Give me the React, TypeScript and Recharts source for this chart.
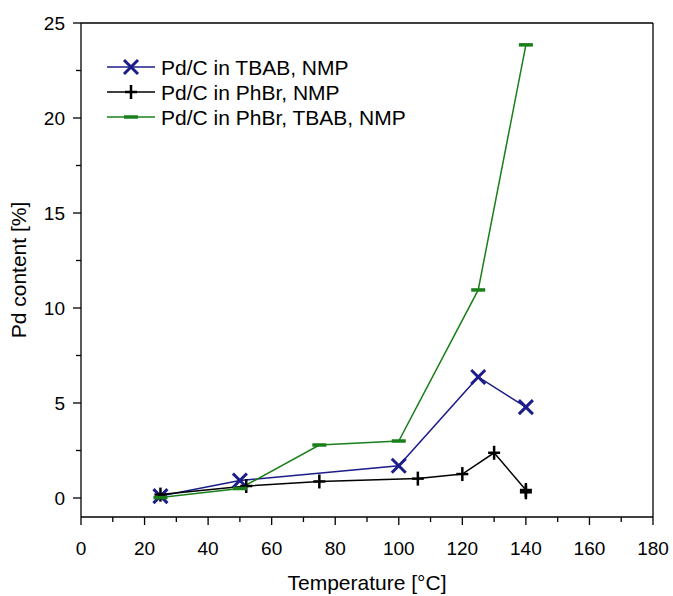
import { LineChart, Line, XAxis, YAxis, ReferenceLine } from "recharts";

const TBAB_TEMPS = [25, 50, 100, 125, 140];
const TBAB_PD = [0.1, 0.92, 1.7, 6.37, 4.78];

const PHBR_TEMPS = [25, 52, 75, 106, 120, 130, 140, 140];
const PHBR_PD = [0.18, 0.63, 0.87, 1.02, 1.26, 2.38, 0.42, 0.3];

const MIX_TEMPS = [25, 50, 75, 100, 125, 140];
const MIX_PD = [0.02, 0.5, 2.79, 3.0, 10.95, 23.85];

const X_TICKS = [0, 10, 20, 30, 40, 50, 60, 70, 80, 90, 100, 110, 120, 130, 140, 150, 160, 170, 180];
const Y_TICKS = [0, 2.5, 5, 7.5, 10, 12.5, 15, 17.5, 20, 22.5, 25];

const FONT = "'Liberation Sans', Arial, sans-serif";

const zip = (xs: number[], ys: number[]) => xs.map((t, i) => ({ t, v: ys[i] }));

const XMark = ({ cx, cy, color }: any) => (
  <g stroke={color} strokeWidth={3} strokeLinecap="butt">
    <line x1={cx - 7} y1={cy - 7} x2={cx + 7} y2={cy + 7} />
    <line x1={cx - 7} y1={cy + 7} x2={cx + 7} y2={cy - 7} />
  </g>
);

const PlusMark = ({ cx, cy, color }: any) => (
  <g stroke={color} strokeWidth={2.5}>
    <line x1={cx - 6} y1={cy} x2={cx + 6} y2={cy} />
    <line x1={cx} y1={cy - 7} x2={cx} y2={cy + 7} />
  </g>
);

const DashMark = ({ cx, cy, color }: any) => (
  <rect x={cx - 7} y={cy - 1.75} width={14} height={3.5} fill={color} />
);

const SERIES = [
  { name: "Pd/C in TBAB, NMP", color: "#1c1c8a", data: zip(TBAB_TEMPS, TBAB_PD), Mark: XMark },
  { name: "Pd/C in PhBr, NMP", color: "#000000", data: zip(PHBR_TEMPS, PHBR_PD), Mark: PlusMark },
  { name: "Pd/C in PhBr, TBAB, NMP", color: "#1a7f1a", data: zip(MIX_TEMPS, MIX_PD), Mark: DashMark },
];

const XTick = ({ x, y, payload }: any) => {
  const major = payload.value % 20 === 0;
  return (
    <g>
      <line x1={x} y1={y} x2={x} y2={y + (major ? 8 : 5)} stroke="#000" strokeWidth={1.3} />
      {major && (
        <text x={x} y={y + 38} textAnchor="middle" fontSize={19} fontFamily={FONT} fill="#000">
          {payload.value}
        </text>
      )}
    </g>
  );
};

const YTick = ({ x, y, payload }: any) => {
  const major = payload.value % 5 === 0;
  return (
    <g>
      <line x1={x - (major ? 8 : 5)} y1={y} x2={x} y2={y} stroke="#000" strokeWidth={1.3} />
      {major && (
        <text x={x - 16} y={y + 7} textAnchor="end" fontSize={19} fontFamily={FONT} fill="#000">
          {payload.value}
        </text>
      )}
    </g>
  );
};

const LegendBox = () => (
  <svg width={340} height={80} style={{ position: "absolute", left: 104, top: 55 }}>
    {SERIES.map((s, i) => {
      const y = 12 + i * 25;
      const { Mark } = s;
      return (
        <g key={s.name}>
          <line x1={3} y1={y} x2={51} y2={y} stroke={s.color} strokeWidth={1.5} />
          <Mark cx={27} cy={y} color={s.color} />
          <text x={57} y={y + 7.5} fontSize={21} fontFamily={FONT} fill="#000">
            {s.name}
          </text>
        </g>
      );
    })}
  </svg>
);

export default function App() {
  return (
    <div style={{ position: "absolute", left: 0, top: 0, width: 673, height: 596, background: "#fff" }}>
      <LineChart width={673} height={596} margin={{ top: 23, right: 20, left: 0, bottom: 0 }}>
        <XAxis
          dataKey="t"
          type="number"
          domain={[0, 180]}
          ticks={X_TICKS}
          interval={0}
          allowDuplicatedCategory={false}
          height={79}
          tickSize={0}
          tickMargin={0}
          tickLine={false}
          tick={<XTick />}
          stroke="#000"
          strokeWidth={1.3}
          label={{ value: "Temperature [°C]", position: "insideBottom", offset: 6, fontSize: 21, fontFamily: FONT, fill: "#000" }}
        />
        <YAxis
          type="number"
          domain={[-1, 25]}
          ticks={Y_TICKS}
          interval={0}
          width={81}
          tickSize={0}
          tickMargin={0}
          tickLine={false}
          tick={<YTick />}
          stroke="#000"
          strokeWidth={1.3}
          label={{ value: "Pd content [%]", angle: -90, position: "insideLeft", offset: 19, fontSize: 21, fontFamily: FONT, fill: "#000", style: { textAnchor: "middle" } }}
        />
        <ReferenceLine y={25} stroke="#000" strokeWidth={1.3} />
        <ReferenceLine x={180} stroke="#000" strokeWidth={1.3} />
        {SERIES.map((s) => (
          <Line
            key={s.name}
            data={s.data}
            dataKey="v"
            name={s.name}
            stroke={s.color}
            strokeWidth={1.5}
            isAnimationActive={false}
            dot={(p: any) => <s.Mark key={`${s.name}-${p.index}`} cx={p.cx} cy={p.cy} color={s.color} />}
            activeDot={false}
          />
        ))}
      </LineChart>
      <LegendBox />
    </div>
  );
}
